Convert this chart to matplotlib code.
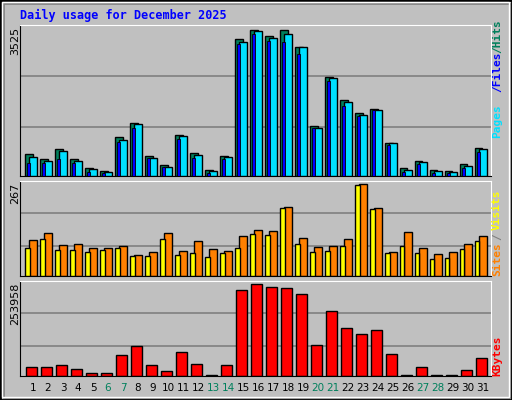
import matplotlib
matplotlib.use('Agg')
import matplotlib.pyplot as plt
from matplotlib.patches import Rectangle
import numpy as np

days = list(range(1, 32))
weekend = [6, 7, 13, 14, 20, 21, 27, 28]

hits = [536, 416, 656, 416, 200, 128, 952, 1288, 496, 280, 1000, 560, 152, 496, 3296,
        3525, 3368, 3520, 3104, 1208, 2384, 1840, 1520, 1624, 800, 200, 376, 152, 128, 304, 680]
pages = [464, 368, 608, 368, 176, 104, 872, 1256, 440, 224, 968, 512, 128, 464, 3224,
         3488, 3320, 3416, 3104, 1160, 2360, 1784, 1472, 1592, 800, 152, 344, 128, 104, 248, 656]
files = [320, 320, 416, 320, 104, 80, 824, 1160, 440, 224, 896, 440, 80, 416, 3176,
         3416, 3248, 3224, 2936, 1160, 2288, 1688, 1448, 1592, 752, 104, 296, 80, 80, 200, 584]
visits = [81, 107, 75, 75, 70, 75, 81, 58, 58, 107, 61, 67, 55, 67, 81,
          122, 119, 197, 93, 70, 73, 87, 265, 194, 67, 87, 67, 49, 52, 78, 102]
sites = [104, 125, 90, 93, 81, 81, 87, 61, 70, 125, 73, 102, 78, 73, 116,
         133, 131, 200, 110, 84, 87, 107, 267, 197, 70, 128, 81, 64, 70, 93, 116]
kbytes = [23170, 23170, 28740, 17610, 6490, 6490, 56540, 81570, 28740, 12050, 64890, 31520, 1500, 28740, 237300,
          253958, 245640, 242860, 226180, 84350, 178900, 131630, 114940, 126070, 59330, 1500, 23170, 1000, 1000, 14830, 48200]

GRAY = '#C0C0C0'
GREEN = '#00805C'
BLUE = '#0000FF'
CYAN = '#00E0FF'
YELLOW = '#FFFF00'
ORANGE = '#FF8000'
RED = '#FF0000'

W, H = 512, 400
fig = plt.figure(figsize=(W / 100, H / 100), dpi=100, facecolor=GRAY)

# window border
fig.patches.append(Rectangle((0, 0), 1, 1, transform=fig.transFigure, fill=False, ec='black', lw=2))
fig.patches.append(Rectangle((2 / W, 3 / H), 1 - 5 / W, 1 - 5 / H, transform=fig.transFigure,
                             fill=False, ec='white', lw=1))
fig.patches.append(Rectangle((4 / W, 2 / H), 1 - 5 / W, 1 - 6 / H, transform=fig.transFigure,
                             fill=False, ec='#808080', lw=1.2, zorder=0))

x = np.array(days)


def panel(top_px, bot_px):
    ax = fig.add_axes([20 / W, 1 - bot_px / H, 471 / W, (bot_px - top_px) / H])
    ax.set_facecolor(GRAY)
    ax.set_xlim(0.133, 31.55)
    ax.set_xticks([])
    ax.set_yticks([])
    for s in ax.spines.values():
        s.set_color('black')
    ax.spines['top'].set_color('white')
    ax.spines['right'].set_color('white')
    return ax


def grid(ax, top, fracs):
    ax.set_ylim(0, top)
    for f in fracs:
        ax.axhline(f * top, color='#808080', lw=1.2, zorder=0)


# top panel
ax1 = panel(25, 176.5)
grid(ax1, 3633, [0.325, 0.661])
ax1.bar(x - 0.51, hits, width=0.49, align='edge', color=GREEN, ec='black', lw=1, zorder=2)
ax1.bar(x - 0.25, pages, width=0.5, align='edge', color=CYAN, ec='black', lw=1, zorder=3)
ax1.bar(x - 0.38, files, width=0.18, align='edge', color=BLUE, ec='black', lw=0.6, zorder=4)
fig.text(15 / W, 1 - 27 / H, '3525', rotation=90, ha='center', va='top', fontsize=8)
fig.text(497 / W, 1 - 138 / H, 'Pages', color=CYAN, rotation=90, ha='center', va='bottom',
         fontsize=8, family='DejaVu Sans Mono', fontweight='bold')
fig.text(497 / W, 1 - 92 / H, '/Files', color=BLUE, rotation=90, ha='center', va='bottom',
         fontsize=8, family='DejaVu Sans Mono', fontweight='bold')
fig.text(497 / W, 1 - 53 / H, '/Hits', color=GREEN, rotation=90, ha='center', va='bottom',
         fontsize=8, family='DejaVu Sans Mono', fontweight='bold')

# middle panel
ax2 = panel(180.7, 276.3)
grid(ax2, 277, [0.314, 0.66])
ax2.bar(x - 0.25, sites, width=0.5, align='edge', color=ORANGE, ec='black', lw=1, zorder=2)
ax2.bar(x - 0.51, visits, width=0.29, align='edge', color=YELLOW, ec='black', lw=1, zorder=3)
fig.text(15 / W, 1 - 183 / H, '267', rotation=90, ha='center', va='top', fontsize=8)
fig.text(497 / W, 1 - 276 / H, 'Sites', color=ORANGE, rotation=90, ha='center', va='bottom',
         fontsize=8, family='DejaVu Sans Mono', fontweight='bold')
fig.text(497 / W, 1 - 240 / H, '/', color='#808080', rotation=90, ha='center', va='bottom',
         fontsize=8, family='DejaVu Sans Mono', fontweight='bold')
fig.text(497 / W, 1 - 230 / H, 'Visits', color=YELLOW, rotation=90, ha='center', va='bottom',
         fontsize=8, family='DejaVu Sans Mono', fontweight='bold')

# bottom panel
ax3 = panel(280.7, 375.7)
grid(ax3, 264200, [0.31, 0.657])
ax3.bar(x - 0.45, kbytes, width=0.7, align='edge', color=RED, ec='black', lw=1, zorder=2)
fig.text(15 / W, 1 - 283 / H, '253958', rotation=90, ha='center', va='top', fontsize=8)
fig.text(497 / W, 1 - 376 / H, 'KBytes', color=RED, rotation=90, ha='center', va='bottom',
         fontsize=8, family='DejaVu Sans Mono', fontweight='bold')

# day labels
for d in days:
    fig.text((20 + (d - 0.133) * 15) / W, 1 - 388 / H, str(d), ha='center', va='center',
             fontsize=7.5, color=GREEN if d in weekend else 'black')

fig.text(20 / W, 1 - 15 / H, 'Daily usage for December 2025', color=BLUE, ha='left', va='center',
         fontsize=8.5, family='DejaVu Sans Mono', fontweight='bold')

fig.savefig('out.png', dpi=100, facecolor=GRAY)
